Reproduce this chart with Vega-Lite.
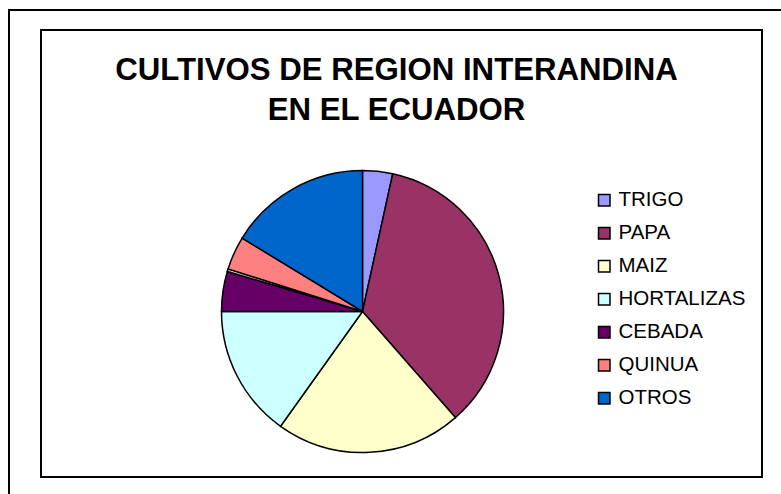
{
  "$schema": "https://vega.github.io/schema/vega-lite/v6.json",
  "autosize": {"type": "none"},
  "width": 721,
  "height": 447,
  "padding": {"left": 41, "top": 30, "right": 19, "bottom": 17},
  "background": "white",
  "view": {"stroke": "black", "strokeWidth": 2, "fill": "white"},
  "config": {
    "font": "Liberation Sans",
    "legend": {"strokeWidth": 2}
  },
  "title": {
    "text": ["CULTIVOS DE REGION INTERANDINA", "EN EL ECUADOR"],
    "font": "Liberation Sans",
    "fontSize": 31.2,
    "fontWeight": "bold",
    "color": "black",
    "anchor": "middle",
    "frame": "group",
    "lineHeight": 40,
    "baseline": "top",
    "orient": "top",
    "offset": -117,
    "dx": -5
  },
  "data": {
    "values": [
      {"cultivo": "TRIGO", "porcentaje": 3.44},
      {"cultivo": "PAPA", "porcentaje": 35.11},
      {"cultivo": "MAIZ", "porcentaje": 21.31},
      {"cultivo": "HORTALIZAS", "porcentaje": 15.14},
      {"cultivo": "CEBADA", "porcentaje": 4.58},
      {"cultivo": "_", "porcentaje": 0.3},
      {"cultivo": "QUINUA", "porcentaje": 3.83},
      {"cultivo": "OTROS", "porcentaje": 16.28}
    ]
  },
  "transform": [
    {"window": [{"op": "row_number", "as": "orden"}]}
  ],
  "mark": {
    "type": "arc",
    "outerRadius": 141,
    "stroke": "black",
    "strokeWidth": 1.5,
    "xOffset": -39,
    "yOffset": 58
  },
  "encoding": {
    "theta": {"field": "porcentaje", "type": "quantitative", "stack": true},
    "order": {"field": "orden", "type": "quantitative", "sort": "ascending"},
    "color": {
      "field": "cultivo",
      "type": "nominal",
      "scale": {
        "domain": ["TRIGO", "PAPA", "MAIZ", "HORTALIZAS", "CEBADA", "_", "QUINUA", "OTROS"],
        "range": ["#9999FF", "#993366", "#FFFFCC", "#CCFFFF", "#660066", "#C0C0C0", "#FF8080", "#0066CC"]
      },
      "legend": {
        "title": null,
        "orient": "none",
        "legendX": 553,
        "legendY": 160,
        "values": ["TRIGO", "PAPA", "MAIZ", "HORTALIZAS", "CEBADA", "QUINUA", "OTROS"],
        "symbolType": "square",
        "symbolSize": 132,
        "symbolStrokeColor": "black",
        "symbolStrokeWidth": 1.5,
        "symbolOpacity": 1,
        "labelFont": "Liberation Sans",
        "labelFontSize": 20.5,
        "labelColor": "black",
        "labelOffset": 4,
        "rowPadding": 12,
        "padding": 0
      }
    },
    "opacity": {
      "datum": "marco",
      "type": "ordinal",
      "scale": {"range": [1, 1]},
      "legend": {
        "title": null,
        "orient": "none",
        "legendX": -32,
        "legendY": -20,
        "padding": 600,
        "strokeColor": "black",
        "symbolSize": 0,
        "symbolOpacity": 0,
        "labelExpr": "''"
      }
    }
  }
}
